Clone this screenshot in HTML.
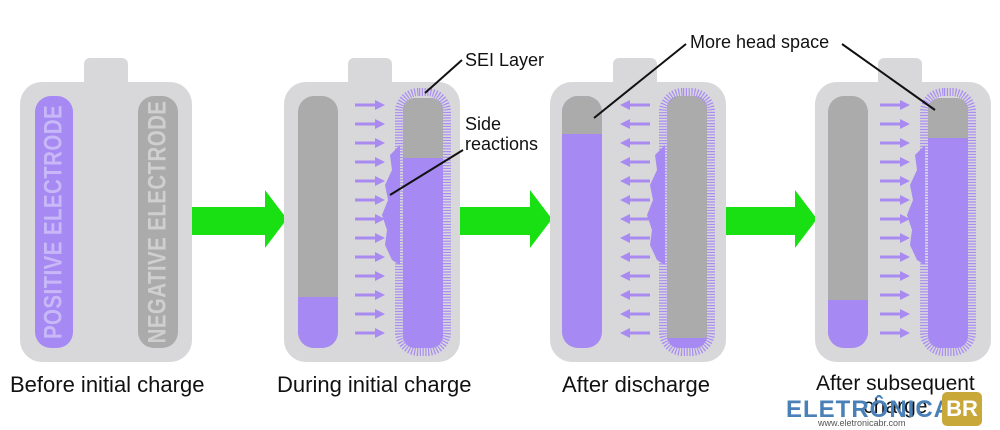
<!DOCTYPE html>
<html><head><style>
body{margin:0;background:#fff;width:1000px;height:430px;overflow:hidden;position:relative;font-family:"Liberation Sans",sans-serif}
.a{position:absolute}
.body{background:#d8d8db;border-radius:22px}
.tab{background:#d8d8db;border-radius:6px 6px 0 0}
.el{border-radius:16px;overflow:hidden;background:#ababab}
.pu{background:#a689f2}
.lbl{font-size:21px;color:#111;white-space:nowrap}
.vt{position:absolute;left:50%;top:50%;transform:translate(-50%,-50%) rotate(-90deg) scaleX(0.82);font-weight:bold;font-size:25px;white-space:nowrap;letter-spacing:0.5px}
</style></head><body>
<svg class="a" style="left:0;top:0" width="1000" height="430">
<g fill="#19e012">
<polygon points="192,207 265,207 265,190 287,219 265,248 265,235 192,235"/>
<polygon points="458,207 530,207 530,190 552,219 530,248 530,235 458,235"/>
<polygon points="722,207 795,207 795,190 817,219 795,248 795,235 722,235"/>
</g>
</svg>
<!-- battery 1 -->
<div class="a tab" style="left:84px;top:58px;width:44px;height:26px"></div>
<div class="a body" style="left:20px;top:82px;width:172px;height:280px"></div>
<div class="a el pu" style="left:35px;top:96px;width:38px;height:252px"><div class="vt" style="color:#c8b8f8">POSITIVE ELECTRODE</div></div>
<div class="a el" style="left:138px;top:96px;width:40px;height:252px"><div class="vt" style="color:#cfcfcf">NEGATIVE ELECTRODE</div></div>
<!-- battery 2 -->
<div class="a tab" style="left:348px;top:58px;width:44px;height:26px"></div>
<div class="a body" style="left:284px;top:82px;width:176px;height:280px"></div>
<div class="a el" style="left:298px;top:96px;width:40px;height:252px"><div class="a pu" style="left:0;top:201px;width:40px;height:60px"></div></div>
<div class="a el pu" style="left:403px;top:98px;width:40px;height:250px;border-radius:12px"><div class="a" style="left:0;top:0;width:40px;height:60px;background:#ababab"></div></div>
<!-- battery 3 -->
<div class="a tab" style="left:613px;top:58px;width:44px;height:26px"></div>
<div class="a body" style="left:550px;top:82px;width:176px;height:280px"></div>
<div class="a el pu" style="left:562px;top:96px;width:40px;height:252px"><div class="a" style="left:0;top:0;width:40px;height:38px;background:#ababab"></div></div>
<div class="a el" style="left:667px;top:96px;width:40px;height:252px;border-radius:12px"><div class="a pu" style="left:0;top:242px;width:40px;height:12px"></div></div>
<!-- battery 4 -->
<div class="a tab" style="left:878px;top:58px;width:44px;height:26px"></div>
<div class="a body" style="left:815px;top:82px;width:176px;height:280px"></div>
<div class="a el" style="left:828px;top:96px;width:40px;height:252px"><div class="a pu" style="left:0;top:204px;width:40px;height:60px"></div></div>
<div class="a el pu" style="left:928px;top:98px;width:40px;height:250px;border-radius:12px"><div class="a" style="left:0;top:0;width:40px;height:40px;background:#ababab"></div></div>
<svg class="a" style="left:0;top:0" width="1000" height="430">
<defs>
<g id="ar"><line x1="0" y1="0" x2="22" y2="0" stroke="#a88af0" stroke-width="3"/><polygon points="20,-5 30,0 20,5" fill="#a88af0"/></g>
<g id="al"><line x1="8" y1="0" x2="30" y2="0" stroke="#a88af0" stroke-width="3"/><polygon points="10,-5 0,0 10,5" fill="#a88af0"/></g>
<path id="blob" d="M20,5 L10,15 L12,30 L5,45 L8,60 L2,75 L7,90 L5,105 L12,120 L20,125Z" fill="#a689f2"/>
</defs>
<g fill="none" stroke-width="8" stroke-dasharray="1.2 1.6" stroke="#a98cf2">
<rect x="399" y="92" width="48" height="260" rx="20"/>
<rect x="924" y="92" width="48" height="260" rx="20"/>
<rect x="663" y="92" width="48" height="260" rx="20"/>
</g>
<use href="#blob" x="380" y="140"/><use href="#blob" x="645" y="140"/><use href="#blob" x="905" y="140"/>
<g>
<use href="#ar" x="355" y="105"/><use href="#ar" x="355" y="124"/><use href="#ar" x="355" y="143"/><use href="#ar" x="355" y="162"/><use href="#ar" x="355" y="181"/><use href="#ar" x="355" y="200"/><use href="#ar" x="355" y="219"/><use href="#ar" x="355" y="238"/><use href="#ar" x="355" y="257"/><use href="#ar" x="355" y="276"/><use href="#ar" x="355" y="295"/><use href="#ar" x="355" y="314"/><use href="#ar" x="355" y="333"/>
<use href="#ar" x="880" y="105"/><use href="#ar" x="880" y="124"/><use href="#ar" x="880" y="143"/><use href="#ar" x="880" y="162"/><use href="#ar" x="880" y="181"/><use href="#ar" x="880" y="200"/><use href="#ar" x="880" y="219"/><use href="#ar" x="880" y="238"/><use href="#ar" x="880" y="257"/><use href="#ar" x="880" y="276"/><use href="#ar" x="880" y="295"/><use href="#ar" x="880" y="314"/><use href="#ar" x="880" y="333"/>
<use href="#al" x="620" y="105"/><use href="#al" x="620" y="124"/><use href="#al" x="620" y="143"/><use href="#al" x="620" y="162"/><use href="#al" x="620" y="181"/><use href="#al" x="620" y="200"/><use href="#al" x="620" y="219"/><use href="#al" x="620" y="238"/><use href="#al" x="620" y="257"/><use href="#al" x="620" y="276"/><use href="#al" x="620" y="295"/><use href="#al" x="620" y="314"/><use href="#al" x="620" y="333"/>
</g>
<g stroke="#111" stroke-width="2">
<line x1="462" y1="60" x2="425" y2="93"/>
<line x1="463" y1="150" x2="390" y2="195"/>
<line x1="686" y1="44" x2="594" y2="118"/>
<line x1="842" y1="44" x2="935" y2="110"/>
</g>
</svg>
<div class="a lbl" style="left:465px;top:50px;font-size:18px">SEI Layer</div>
<div class="a lbl" style="left:465px;top:114px;font-size:18px;line-height:20px">Side<br>reactions</div>
<div class="a lbl" style="left:690px;top:32px;font-size:18px">More head space</div>
<div class="a lbl" style="left:10px;top:372px;font-size:22px">Before initial charge</div>
<div class="a lbl" style="left:277px;top:372px;font-size:22px">During initial charge</div>
<div class="a lbl" style="left:562px;top:372px;font-size:22px">After discharge</div>
<div class="a lbl" style="left:816px;top:372px;line-height:23px;text-align:center;font-size:21px">After subsequent<br>charge</div>
<div class="a" style="left:786px;top:396px;font-size:24px;font-weight:bold;color:#4a80b8;letter-spacing:1px">ELETRÔNICA</div>
<div class="a" style="left:942px;top:392px;width:40px;height:34px;background:#c9a83a;border-radius:5px;color:#fff;font-weight:bold;font-size:22px;text-align:center;line-height:34px">BR</div>
<div class="a" style="left:818px;top:418px;font-size:9px;color:#555">www.eletronicabr.com</div>
</body></html>
